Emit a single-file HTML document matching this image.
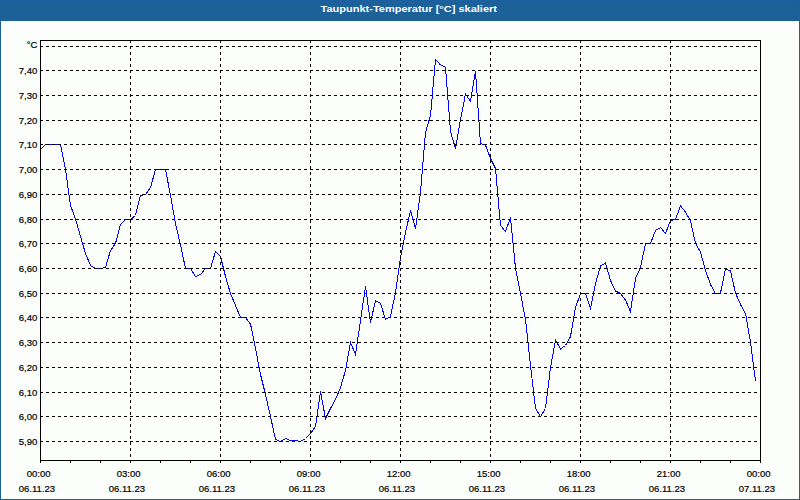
<!DOCTYPE html>
<html><head><meta charset="utf-8"><title>Taupunkt-Temperatur</title>
<style>
html,body{margin:0;padding:0;background:#fcfefc;}
body{width:800px;height:500px;overflow:hidden;font-family:"Liberation Sans",sans-serif;}
svg{display:block;}
text{font-family:"Liberation Sans",sans-serif;font-size:9.5px;fill:#000;stroke:#000;stroke-width:0.2px;}
.t{font-weight:bold;fill:#fff;font-size:9.6px;stroke:none;}
</style></head><body>
<svg width="800" height="500" viewBox="0 0 800 500">
<defs><pattern id="dt" x="0" y="0" width="8" height="21" patternUnits="userSpaceOnUse"><rect x="4" y="0" width="1" height="1" fill="#2063b2"/><rect x="0" y="1" width="1" height="1" fill="#2063b2"/><rect x="5" y="2" width="1" height="1" fill="#2063b2"/><rect x="2" y="2" width="1" height="1" fill="#2063b2"/><rect x="7" y="4" width="1" height="1" fill="#2063b2"/><rect x="4" y="5" width="1" height="1" fill="#2063b2"/><rect x="1" y="5" width="1" height="1" fill="#2063b2"/><rect x="7" y="7" width="1" height="1" fill="#2063b2"/><rect x="3" y="8" width="1" height="1" fill="#2063b2"/><rect x="1" y="9" width="1" height="1" fill="#2063b2"/><rect x="5" y="9" width="1" height="1" fill="#2063b2"/><rect x="0" y="11" width="1" height="1" fill="#2063b2"/><rect x="4" y="11" width="1" height="1" fill="#2063b2"/><rect x="2" y="13" width="1" height="1" fill="#2063b2"/><rect x="6" y="13" width="1" height="1" fill="#2063b2"/><rect x="1" y="15" width="1" height="1" fill="#2063b2"/><rect x="5" y="15" width="1" height="1" fill="#2063b2"/><rect x="0" y="17" width="1" height="1" fill="#2063b2"/><rect x="4" y="17" width="1" height="1" fill="#2063b2"/><rect x="2" y="19" width="1" height="1" fill="#2063b2"/><rect x="6" y="19" width="1" height="1" fill="#2063b2"/></pattern></defs>
<rect x="0" y="0" width="800" height="500" fill="#fcfefc"/>
<rect x="0" y="0" width="800" height="21" fill="#1c6098"/>
<rect x="0" y="0" width="800" height="21" fill="url(#dt)" shape-rendering="crispEdges"/>
<rect x="0" y="0" width="1" height="500" fill="#1c6098"/>
<rect x="799" y="0" width="1" height="500" fill="#1c6098"/>
<rect x="0" y="499" width="800" height="1" fill="#1c6098"/>
<text class="t" x="320.5" y="12" textLength="176.5" lengthAdjust="spacingAndGlyphs">Taupunkt-Temperatur [°C] skaliert</text>
<polyline points="40.5,149.5 45.5,144.5 50.5,144.5 55.5,144.5 60.5,144.5 65.5,169.5 70.5,205.5 75.5,219.0 80.5,236.5 85.5,253.5 90.5,265.5 95.5,268.5 100.5,268.5 105.5,267.5 110.5,250.5 115.5,243.5 120.5,224.5 125.5,219.5 130.5,219.5 135.5,215.5 140.5,195.5 145.5,194.5 150.5,187.5 155.5,169.5 160.5,169.5 165.5,169.5 170.5,195.5 175.5,223.5 180.5,245.0 185.5,268.5 190.5,268.5 195.5,276.5 200.5,274.5 205.5,268.5 210.5,268.5 215.5,251.5 220.5,256.5 225.5,276.5 230.5,293.5 235.5,305.5 240.5,317.5 245.5,317.5 250.5,324.0 255.5,348.5 260.5,374.5 265.5,394.5 270.5,416.5 275.5,439.5 280.5,441.5 285.5,438.5 290.5,440.5 295.5,440.5 300.5,441.5 305.5,438.5 310.5,433.5 315.5,426.5 320.5,391.5 325.5,418.5 330.5,408.5 335.5,399.5 340.5,387.5 345.5,370.5 350.5,342.5 355.5,354.5 360.5,320.5 365.5,286.5 370.5,322.5 375.5,300.5 380.5,303.5 385.5,319.5 390.5,316.5 395.5,292.5 400.5,257.5 405.5,232.5 410.5,210.5 415.5,228.5 420.5,192.5 425.5,132.5 430.5,115.5 435.5,59.5 440.5,64.9 445.5,67.1 450.5,131.5 455.5,148.5 460.5,119.5 465.5,94.0 470.5,101.5 475.5,71.5 480.5,143.5 485.5,145.0 490.5,158.5 495.5,168.5 500.5,225.5 505.5,231.5 510.5,217.5 515.5,268.5 520.5,293.5 525.5,319.5 530.5,365.5 535.5,408.5 540.5,416.5 545.5,408.5 550.5,367.5 555.5,340.0 560.5,349.0 565.5,345.5 570.5,336.5 575.5,307.5 580.5,293.5 585.5,293.5 590.5,308.5 595.5,283.5 600.5,266.1 605.5,263.0 610.5,280.5 615.5,291.0 620.5,293.5 625.5,300.0 630.5,311.5 635.5,278.5 640.5,267.5 645.5,243.5 650.5,243.5 655.5,230.5 660.5,227.5 665.5,233.5 670.5,220.5 675.5,219.5 680.5,206.0 685.5,212.0 690.5,221.0 695.5,243.5 700.5,252.0 705.5,270.5 710.5,284.5 715.5,293.5 720.5,293.0 725.5,269.0 730.5,271.0 735.5,293.0 740.5,304.5 745.5,313.5 750.5,342.0 755.5,381.1" fill="none" stroke="#0000ff" stroke-width="1" shape-rendering="crispEdges"/>
<g stroke="#000" stroke-width="1" shape-rendering="crispEdges" fill="none">
<line x1="40" y1="46.5" x2="760" y2="46.5" stroke-dasharray="3 3"/>
<line x1="40" y1="70.5" x2="760" y2="70.5" stroke-dasharray="3 3"/>
<line x1="40" y1="95.5" x2="760" y2="95.5" stroke-dasharray="3 3"/>
<line x1="40" y1="120.5" x2="760" y2="120.5" stroke-dasharray="3 3"/>
<line x1="40" y1="144.5" x2="760" y2="144.5" stroke-dasharray="3 3"/>
<line x1="40" y1="169.5" x2="760" y2="169.5" stroke-dasharray="3 3"/>
<line x1="40" y1="194.5" x2="760" y2="194.5" stroke-dasharray="3 3"/>
<line x1="40" y1="219.5" x2="760" y2="219.5" stroke-dasharray="3 3"/>
<line x1="40" y1="243.5" x2="760" y2="243.5" stroke-dasharray="3 3"/>
<line x1="40" y1="268.5" x2="760" y2="268.5" stroke-dasharray="3 3"/>
<line x1="40" y1="293.5" x2="760" y2="293.5" stroke-dasharray="3 3"/>
<line x1="40" y1="317.5" x2="760" y2="317.5" stroke-dasharray="3 3"/>
<line x1="40" y1="342.5" x2="760" y2="342.5" stroke-dasharray="3 3"/>
<line x1="40" y1="367.5" x2="760" y2="367.5" stroke-dasharray="3 3"/>
<line x1="40" y1="392.5" x2="760" y2="392.5" stroke-dasharray="3 3"/>
<line x1="40" y1="416.5" x2="760" y2="416.5" stroke-dasharray="3 3"/>
<line x1="40" y1="441.5" x2="760" y2="441.5" stroke-dasharray="3 3"/>
<line x1="130.5" y1="40" x2="130.5" y2="460" stroke-dasharray="3 3"/>
<line x1="220.5" y1="40" x2="220.5" y2="460" stroke-dasharray="3 3"/>
<line x1="310.5" y1="40" x2="310.5" y2="460" stroke-dasharray="3 3"/>
<line x1="400.5" y1="40" x2="400.5" y2="460" stroke-dasharray="3 3"/>
<line x1="490.5" y1="40" x2="490.5" y2="460" stroke-dasharray="3 3"/>
<line x1="580.5" y1="40" x2="580.5" y2="460" stroke-dasharray="3 3"/>
<line x1="670.5" y1="40" x2="670.5" y2="460" stroke-dasharray="3 3"/>
<rect x="40.5" y="40.5" width="720" height="420"/>
<line x1="40.5" y1="460" x2="40.5" y2="463"/>
<line x1="70.5" y1="460" x2="70.5" y2="463"/>
<line x1="100.5" y1="460" x2="100.5" y2="463"/>
<line x1="130.5" y1="460" x2="130.5" y2="463"/>
<line x1="160.5" y1="460" x2="160.5" y2="463"/>
<line x1="190.5" y1="460" x2="190.5" y2="463"/>
<line x1="220.5" y1="460" x2="220.5" y2="463"/>
<line x1="250.5" y1="460" x2="250.5" y2="463"/>
<line x1="280.5" y1="460" x2="280.5" y2="463"/>
<line x1="310.5" y1="460" x2="310.5" y2="463"/>
<line x1="340.5" y1="460" x2="340.5" y2="463"/>
<line x1="370.5" y1="460" x2="370.5" y2="463"/>
<line x1="400.5" y1="460" x2="400.5" y2="463"/>
<line x1="430.5" y1="460" x2="430.5" y2="463"/>
<line x1="460.5" y1="460" x2="460.5" y2="463"/>
<line x1="490.5" y1="460" x2="490.5" y2="463"/>
<line x1="520.5" y1="460" x2="520.5" y2="463"/>
<line x1="550.5" y1="460" x2="550.5" y2="463"/>
<line x1="580.5" y1="460" x2="580.5" y2="463"/>
<line x1="610.5" y1="460" x2="610.5" y2="463"/>
<line x1="640.5" y1="460" x2="640.5" y2="463"/>
<line x1="670.5" y1="460" x2="670.5" y2="463"/>
<line x1="700.5" y1="460" x2="700.5" y2="463"/>
<line x1="730.5" y1="460" x2="730.5" y2="463"/>
<line x1="760.5" y1="460" x2="760.5" y2="463"/>
</g>
<text x="37.3" y="48" text-anchor="end">°C</text>
<text x="37.3" y="74" text-anchor="end">7,40</text>
<text x="37.3" y="99" text-anchor="end">7,30</text>
<text x="37.3" y="124" text-anchor="end">7,20</text>
<text x="37.3" y="148" text-anchor="end">7,10</text>
<text x="37.3" y="173" text-anchor="end">7,00</text>
<text x="37.3" y="198" text-anchor="end">6,90</text>
<text x="37.3" y="223" text-anchor="end">6,80</text>
<text x="37.3" y="247" text-anchor="end">6,70</text>
<text x="37.3" y="272" text-anchor="end">6,60</text>
<text x="37.3" y="297" text-anchor="end">6,50</text>
<text x="37.3" y="321" text-anchor="end">6,40</text>
<text x="37.3" y="346" text-anchor="end">6,30</text>
<text x="37.3" y="371" text-anchor="end">6,20</text>
<text x="37.3" y="396" text-anchor="end">6,10</text>
<text x="37.3" y="420" text-anchor="end">6,00</text>
<text x="37.3" y="445" text-anchor="end">5,90</text>
<text x="26.8" y="477">00:00</text>
<text x="18.8" y="492">06.11.23</text>
<text x="116.8" y="477">03:00</text>
<text x="108.8" y="492">06.11.23</text>
<text x="206.8" y="477">06:00</text>
<text x="198.8" y="492">06.11.23</text>
<text x="296.8" y="477">09:00</text>
<text x="288.8" y="492">06.11.23</text>
<text x="386.8" y="477">12:00</text>
<text x="378.8" y="492">06.11.23</text>
<text x="476.8" y="477">15:00</text>
<text x="468.8" y="492">06.11.23</text>
<text x="566.8" y="477">18:00</text>
<text x="558.8" y="492">06.11.23</text>
<text x="656.8" y="477">21:00</text>
<text x="648.8" y="492">06.11.23</text>
<text x="746.8" y="477">00:00</text>
<text x="738.8" y="492">07.11.23</text>
</svg></body></html>
